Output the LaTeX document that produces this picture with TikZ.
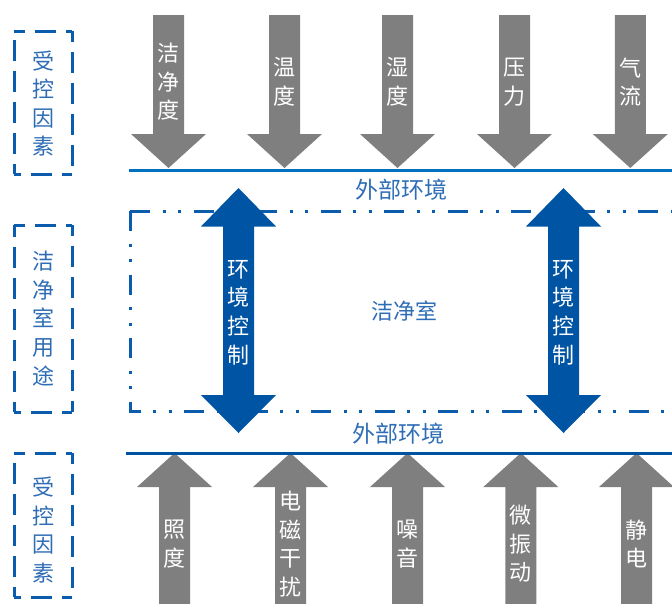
\documentclass[tikz,border=0pt]{standalone}
\usepackage{fontspec}
\newfontfamily\cjk{Noto Sans CJK SC}
\definecolor{arrgray}{HTML}{7F7F7F}
\definecolor{ablue}{HTML}{0054A4}
\definecolor{topline}{HTML}{0070C0}
\definecolor{botline}{HTML}{0052A2}
\definecolor{lbltxt}{HTML}{2E6DB5}
\definecolor{boxblue}{HTML}{0B5CAD}
\begin{document}
\begin{tikzpicture}[x=1pt,y=-1pt,
  grayarrow/.style={fill=arrgray,draw=none},
  bluearrow/.style={fill=ablue,draw=none},
  vtext/.style={text=white,font=\cjk\fontsize{22}{28.6}\selectfont,align=center,inner sep=0pt},
  lbl/.style={text=lbltxt,font=\cjk\fontsize{22}{28.6}\selectfont,align=center,inner sep=0pt},
  lbox/.style={draw=boxblue,line width=3pt,dash pattern=on 21pt off 10pt,dash phase=10.5pt},
  ddline/.style={draw=boxblue,line width=3pt,dash pattern=on 20pt off 12.5pt on 3pt off 12.5pt on 3pt off 12.5pt},
  envline/.style={line width=3pt}
]
\useasboundingbox (0,0) rectangle (672,603);
\clip (0,0) rectangle (672,603);

% left dashed boxes
\foreach \ya/\yb in {31/174,225/412,453/597}{
  \draw[lbox] (14,\ya) -- (72,\ya);
  \draw[lbox] (72,\ya) -- (72,\yb);
  \draw[lbox] (72,\yb) -- (14,\yb);
  \draw[lbox] (14,\yb) -- (14,\ya);
}
\node[lbl] (f1) at (43,103.5) {受\\控\\因\\素};
\node[lbl] (use) at (43,318.5) {洁\\净\\室\\用\\途};
\node[lbl] (f2) at (43,530) {受\\控\\因\\素};

% top gray arrows
\foreach \x/\t [count=\i] in {168.5/{洁\\净\\度},284.5/{温\\度},397.5/{湿\\度},514.5/{压\\力},630.3/{气\\流}}{
  \fill[grayarrow] (\x-15.5,15) -- (\x+15.5,15) -- (\x+15.5,134) -- (\x+37.5,134)
     -- (\x,168) -- (\x-37.5,134) -- (\x-15.5,134) -- cycle;
  \node[vtext] (top\i) at (\x,82) {\t};
}

% bottom gray arrows
\foreach \x/\t [count=\i] in {174.5/{照\\度},290.5/{电\\磁\\干\\扰},407.5/{噪\\音},520.8/{微\\振\\动},636.5/{静\\电}}{
  \fill[grayarrow] (\x-15.5,610) -- (\x+15.5,610) -- (\x+15.5,487) -- (\x+37.5,487)
     -- (\x,453) -- (\x-37.5,487) -- (\x-15.5,487) -- cycle;
  \node[vtext] (bot\i) at (\x,544) {\t};
}

% environment lines
\coordinate (tl1) at (129,170.5);
\coordinate (tl2) at (680,170.5);
\coordinate (bl1) at (126,453);
\coordinate (bl2) at (680,453);
\draw[envline,topline] (tl1) -- (tl2);
\draw[envline,botline] (bl1) -- (bl2);
\node[lbl,font=\cjk\fontsize{23}{28}\selectfont] (ext1) at (401.5,190) {外部环境};
\node[lbl,font=\cjk\fontsize{23}{28}\selectfont] (ext2) at (398,434) {外部环境};

% clean room dash-dot-dot rectangle
\coordinate (r1) at (130,211);
\coordinate (r2) at (700,211);
\coordinate (r3) at (130,411);
\coordinate (r4) at (700,411);
\draw[ddline] (r1) -- (r2);
\draw[ddline] (r1) -- (r3) -- (r4);
\node[lbl] (room) at (404,311) {洁净室};

% blue double arrows
\foreach \x [count=\i] in {238.5,563.5}{
  \fill[bluearrow] (\x,188) -- (\x+37.5,226.5) -- (\x+15.5,226.5) -- (\x+15.5,395)
     -- (\x+37.5,395) -- (\x,433) -- (\x-37.5,395) -- (\x-15.5,395)
     -- (\x-15.5,226.5) -- (\x-37.5,226.5) -- cycle;
  \node[vtext] (ctl\i) at (\x,312.5) {环\\境\\控\\制};
}
\end{tikzpicture}
\end{document}
